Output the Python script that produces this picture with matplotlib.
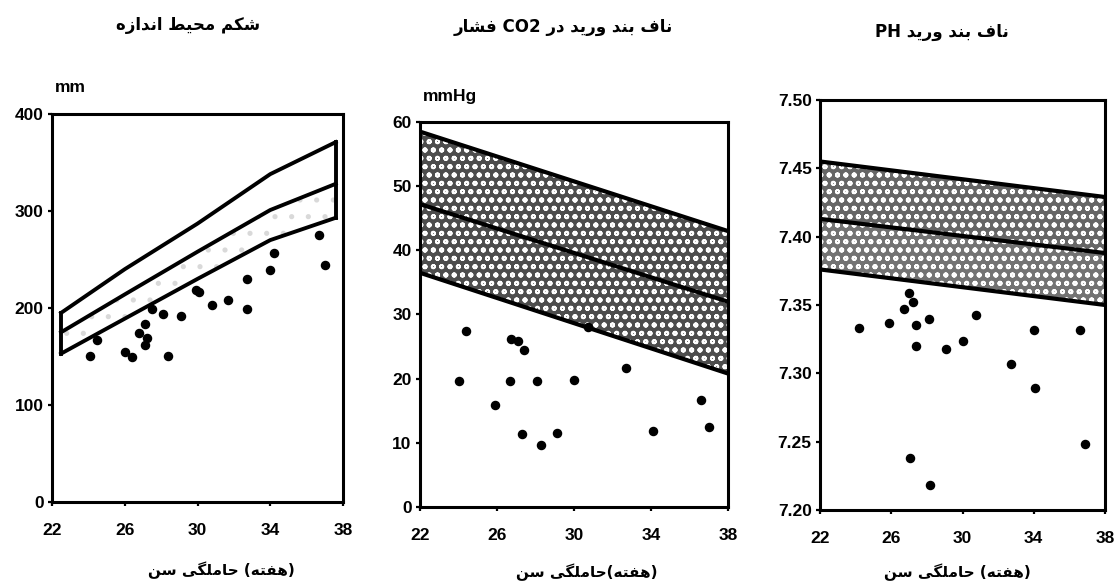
import re
import numpy as np
import matplotlib
matplotlib.use("Agg")
import matplotlib.pyplot as plt

# --- data ---
ticks_x = [22, 26, 30, 34, 38]

# panel 1: abdominal circumference (mm)
band1_x = [22.5, 26, 30, 34, 37.6]
band1_hi = [195, 240, 287, 338, 371]
band1_mid = [175, 214, 258, 301, 328]
band1_lo = [153, 189, 230, 270, 293]
pts1_x = [24.1, 24.5, 26.0, 26.4, 26.8, 27.1, 27.1, 27.2, 27.5, 28.1, 28.4,
          29.1, 29.9, 30.1, 30.8, 31.7, 32.7, 32.7, 34.0, 34.2, 36.7, 37.0]
pts1_y = [151, 167, 155, 149, 174, 184, 162, 169, 199, 194, 150,
          192, 219, 217, 203, 208, 230, 199, 239, 257, 275, 244]

# panel 2: umbilical vein pCO2 (mmHg)
band2_x = [22, 38]
band2_hi = [58.5, 43.0]
band2_mid = [47.2, 32.0]
band2_lo = [36.5, 20.8]
pts2_x = [24.05, 24.4, 25.9, 26.7, 26.75, 27.1, 27.4, 27.3, 28.1, 28.3,
          29.1, 30.0, 30.75, 32.7, 34.1, 36.6, 37.0]
pts2_y = [19.6, 27.4, 15.9, 19.6, 26.2, 25.9, 24.5, 11.4, 19.6, 9.7,
          11.5, 19.8, 28.0, 21.7, 11.9, 16.6, 12.5]

# panel 3: umbilical vein pH
band3_x = [22, 38]
band3_hi = [7.455, 7.429]
band3_mid = [7.413, 7.388]
band3_lo = [7.376, 7.350]
pts3_x = [24.2, 25.9, 26.7, 27.0, 27.2, 27.4, 27.4, 28.1, 27.05, 28.2,
          29.1, 30.0, 30.75, 32.7, 34.0, 34.05, 36.6, 36.9]
pts3_y = [7.333, 7.337, 7.347, 7.359, 7.352, 7.335, 7.320, 7.340, 7.238, 7.218,
          7.318, 7.324, 7.343, 7.307, 7.332, 7.289, 7.332, 7.248]

titles = ["اندازه محیط شکم", "فشار CO2 در ورید بند ناف", "PH ورید بند ناف"]
xlabels = ["سن حاملگی (هفته)", "سن حاملگی(هفته)", "سن حاملگی (هفته)"]

# --- minimal Persian shaping (matplotlib has no bidi/shaping) ---
FORMS = {
    'ا': ('\uFE8D', '\uFE8E', None, None),
    'ب': ('\uFE8F', '\uFE90', '\uFE91', '\uFE92'),
    'ت': ('\uFE95', '\uFE96', '\uFE97', '\uFE98'),
    'ح': ('\uFEA1', '\uFEA2', '\uFEA3', '\uFEA4'),
    'د': ('\uFEA9', '\uFEAA', None, None),
    'ر': ('\uFEAD', '\uFEAE', None, None),
    'ز': ('\uFEAF', '\uFEB0', None, None),
    'س': ('\uFEB1', '\uFEB2', '\uFEB3', '\uFEB4'),
    'ش': ('\uFEB5', '\uFEB6', '\uFEB7', '\uFEB8'),
    'ط': ('\uFEC1', '\uFEC2', '\uFEC3', '\uFEC4'),
    'ف': ('\uFED1', '\uFED2', '\uFED3', '\uFED4'),
    'ل': ('\uFEDD', '\uFEDE', '\uFEDF', '\uFEE0'),
    'م': ('\uFEE1', '\uFEE2', '\uFEE3', '\uFEE4'),
    'ن': ('\uFEE5', '\uFEE6', '\uFEE7', '\uFEE8'),
    'ه': ('\uFEE9', '\uFEEA', '\uFEEB', '\uFEEC'),
    'و': ('\uFEED', '\uFEEE', None, None),
    'ی': ('\uFBFC', '\uFBFD', '\uFBFE', '\uFBFF'),
    'ک': ('\uFB8E', '\uFB8F', '\uFB90', '\uFB91'),
    'گ': ('\uFB92', '\uFB93', '\uFB94', '\uFB95'),
}


def dual(c):
    return c in FORMS and FORMS[c][2] is not None


def shape_word(w):
    out = []
    for i, c in enumerate(w):
        if c not in FORMS:
            out.append(c)
            continue
        prev = w[i - 1] if i > 0 else None
        nxt = w[i + 1] if i + 1 < len(w) else None
        jp = prev is not None and dual(prev)
        jn = dual(c) and nxt is not None and nxt in FORMS
        iso, fin, ini, med = FORMS[c]
        if jp and jn:
            out.append(med)
        elif jp:
            out.append(fin)
        elif jn:
            out.append(ini)
        else:
            out.append(iso)
    return ''.join(out[::-1])


def fa(text):
    # the source figure places the words left to right, each word shaped
    parts = re.findall(r'\([^)]*\)|[^ ()]+| ', text)
    res = []
    for p in parts:
        if p.startswith('('):
            res.append('(' + shape_word(p[1:-1]) + ')')
        elif any(c in FORMS for c in p):
            res.append(shape_word(p))
        else:
            res.append(p)
    return ''.join(res)


plt.rcParams['hatch.linewidth'] = 1.3
fig = plt.figure(figsize=(11.19, 5.87), dpi=100)

ax1 = fig.add_axes([0.0465, 0.1448, 0.260, 0.661])
ax2 = fig.add_axes([0.3753, 0.1363, 0.2752, 0.6559])
ax3 = fig.add_axes([0.7328, 0.1312, 0.2547, 0.6985])
axes = [ax1, ax2, ax3]

# panel 1
ax1.fill_between(band1_x, band1_lo, band1_mid, facecolor='white',
                 hatch='.', edgecolor='0.85', linewidth=0)
ax1.plot(band1_x, band1_hi, color='black', lw=2.8)
ax1.plot(band1_x, band1_mid, color='black', lw=2.8)
ax1.plot(band1_x, band1_lo, color='black', lw=2.8)
ax1.plot([band1_x[0]] * 2, [band1_lo[0], band1_hi[0]], color='black', lw=2.8)
ax1.plot([band1_x[-1]] * 2, [band1_lo[-1], band1_hi[-1]], color='black', lw=2.8)
ax1.scatter(pts1_x, pts1_y, s=34, color='black', zorder=3)
ax1.set_ylim(0, 400)
ax1.set_yticks([0, 100, 200, 300, 400])

# panel 2
ax2.fill_between(band2_x, band2_mid, band2_hi, facecolor='0.3',
                 hatch='oo', edgecolor='white', linewidth=0)
ax2.fill_between(band2_x, band2_lo, band2_mid, facecolor='0.3',
                 hatch='oo', edgecolor='white', linewidth=0)
for yy in (band2_hi, band2_mid, band2_lo):
    ax2.plot(band2_x, yy, color='black', lw=3)
ax2.scatter(pts2_x, pts2_y, s=34, color='black', zorder=3)
ax2.set_ylim(0, 60)
ax2.set_yticks([0, 10, 20, 30, 40, 50, 60])

# panel 3
ax3.fill_between(band3_x, band3_mid, band3_hi, facecolor='0.4',
                 hatch='oo', edgecolor='white', linewidth=0)
ax3.fill_between(band3_x, band3_lo, band3_mid, facecolor='0.45',
                 hatch='oo', edgecolor='white', linewidth=0)
for yy in (band3_hi, band3_mid, band3_lo):
    ax3.plot(band3_x, yy, color='black', lw=3)
ax3.scatter(pts3_x, pts3_y, s=34, color='black', zorder=3)
ax3.set_ylim(7.20, 7.50)
ax3.set_yticks([7.20, 7.25, 7.30, 7.35, 7.40, 7.45, 7.50])
ax3.set_yticklabels(['7.20', '7.25', '7.30', '7.35', '7.40', '7.45', '7.50'])

for ax in axes:
    ax.set_xlim(22, 38)
    ax.set_xticks(ticks_x)
    for sp in ax.spines.values():
        sp.set_linewidth(2.2)
    ax.tick_params(direction='out', length=3, width=1.6, labelsize=12.5)
    ax.tick_params(axis='x', pad=12)
    ax.tick_params(axis='y', pad=3)
    for lab in ax.get_xticklabels() + ax.get_yticklabels():
        lab.set_fontweight('heavy')
        lab.set_family('Liberation Sans')

W, H = 1119.0, 587.0


def put(x, y, s, **kw):
    fig.text(x / W, 1 - y / H, s, **kw)


put(188, 25, fa(titles[0]), ha='center', va='center', fontsize=12,
    fontweight='bold', family=['DejaVu Sans'])
put(563, 27, fa(titles[1]), ha='center', va='center', fontsize=12,
    fontweight='bold', family=['DejaVu Sans'])
put(942, 32, fa(titles[2]), ha='center', va='center', fontsize=12,
    fontweight='bold', family=['DejaVu Sans'])

put(221, 570, fa(xlabels[0]), ha='center', va='center', fontsize=11,
    fontweight='bold', family=['DejaVu Sans'])
put(587, 572, fa(xlabels[1]), ha='center', va='center', fontsize=11,
    fontweight='bold', family=['DejaVu Sans'])
put(957, 572, fa(xlabels[2]), ha='center', va='center', fontsize=11,
    fontweight='bold', family=['DejaVu Sans'])

put(55, 88, 'mm', ha='left', va='center', fontsize=12.5, fontweight='heavy',
    family='Liberation Sans')
put(423, 97, 'mmHg', ha='left', va='center', fontsize=12.5, fontweight='heavy',
    family='Liberation Sans')

fig.savefig('out.png', dpi=100)
